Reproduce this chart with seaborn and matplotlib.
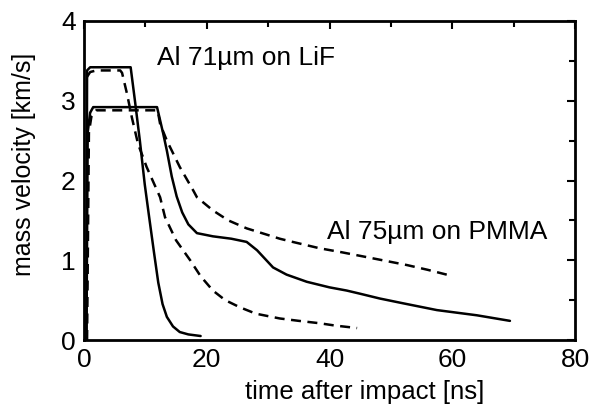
import numpy as np
import pandas as pd
import matplotlib
matplotlib.use("Agg")
import matplotlib.pyplot as plt
import seaborn as sns
from matplotlib.ticker import MultipleLocator

# Al 71um on LiF
lif_solid_t = [0.4, 0.5, 1.0, 4.0, 7.6, 8.3, 9.1, 9.9, 10.6, 11.4, 12.1, 12.8, 13.5, 14.5, 15.6, 17.0, 19.0]
lif_solid_v = [0.0, 3.38, 3.42, 3.42, 3.42, 3.0, 2.5, 1.95, 1.55, 1.1, 0.72, 0.45, 0.29, 0.17, 0.10, 0.07, 0.05]
lif_dash_t = [0.5, 1.0, 2.0, 3.0, 5.9, 6.2, 7.0, 7.8, 8.8, 10.2, 12.4, 13.2, 15.0, 17.3, 19.0, 21.0, 23.0, 25.4, 28.0, 31.9, 35.0, 38.4, 41.0, 44.5]
lif_dash_v = [3.3, 3.36, 3.38, 3.38, 3.38, 3.35, 3.09, 2.79, 2.46, 2.17, 1.79, 1.54, 1.25, 1.0, 0.8, 0.62, 0.5, 0.41, 0.33, 0.27, 0.24, 0.21, 0.18, 0.15]

# Al 75um on PMMA
pmma_solid_t = [0.4, 0.6, 1.0, 1.5, 11.9, 12.9, 13.5, 14.3, 15.1, 16.0, 17.0, 18.4, 21.0, 24.0, 26.5, 28.2, 30.8, 33.0, 36.3, 40.0, 42.8, 45.0, 48.2, 52.0, 57.5, 64.0, 69.4]
pmma_solid_v = [0.0, 2.6, 2.85, 2.92, 2.92, 2.59, 2.375, 2.05, 1.8, 1.6, 1.45, 1.34, 1.3, 1.27, 1.23, 1.125, 0.91, 0.82, 0.73, 0.66, 0.62, 0.58, 0.52, 0.46, 0.375, 0.31, 0.24]
pmma_dash_t = [0.5, 0.8, 1.2, 2.0, 12.0, 12.4, 13.5, 14.3, 15.6, 17.8, 18.4, 21.0, 23.5, 26.5, 31.9, 34.0, 38.4, 42.0, 46.0, 52.6, 56.0, 60.1]
pmma_dash_v = [0.0, 2.6, 2.8, 2.88, 2.88, 2.71, 2.5, 2.375, 2.17, 1.875, 1.79, 1.625, 1.5, 1.4, 1.27, 1.23, 1.15, 1.1, 1.04, 0.94, 0.88, 0.8]

x_ticks = [0, 20, 40, 60, 80]
y_ticks = [0, 1, 2, 3, 4]

sns.set_style("white")
plt.rcParams['font.family'] = ['Liberation Sans', 'DejaVu Sans']
plt.rcParams['text.color'] = 'black'
plt.rcParams['axes.labelcolor'] = 'black'
plt.rcParams['xtick.color'] = 'black'
plt.rcParams['ytick.color'] = 'black'

fig = plt.figure(figsize=(5.89, 4.09), dpi=100)
ax = fig.add_axes([84/589, 1-340/409, 491/589, 319/409])

series = [
    (lif_solid_t, lif_solid_v, "-"),
    (lif_dash_t, lif_dash_v, "--"),
    (pmma_solid_t, pmma_solid_v, "-"),
    (pmma_dash_t, pmma_dash_v, "--"),
]
for t, v, ls in series:
    df = pd.DataFrame({"t": t, "v": v})
    sns.lineplot(data=df, x="t", y="v", ax=ax, color="black", lw=1.8,
                 estimator=None, sort=False)
    line = ax.lines[-1]
    if ls == "--":
        line.set_dashes((4.0, 2.6))

ax.set_xlim(0, 80)
ax.set_ylim(0, 4)
ax.set_xticks(x_ticks)
ax.set_yticks(y_ticks)
ax.xaxis.set_minor_locator(MultipleLocator(10))
ax.yaxis.set_minor_locator(MultipleLocator(0.5))
ax.tick_params(which="both", direction="in", top=True, right=True, color="black", width=1.5)
ax.tick_params(which="major", length=6, labelsize=19, pad=6, labelcolor="black")
ax.tick_params(which="minor", length=4)
for s in ax.spines.values():
    s.set_linewidth(2)
    s.set_color("black")

ax.set_xlabel("time after impact [ns]", fontsize=18.5, color="black")
ax.xaxis.set_label_coords(0.571, -0.125)
ax.set_ylabel("mass velocity [km/s]", fontsize=18, color="black")
ax.yaxis.set_label_coords(-0.098, 0.552)

ax.text(11.9, 3.54, "Al 71\u00b5m on LiF", fontsize=19, va="center", ha="left", color="black")
ax.text(39.6, 1.35, "Al 75\u00b5m on PMMA", fontsize=19, va="center", ha="left", color="black")

fig.savefig("out.png", dpi=100)
